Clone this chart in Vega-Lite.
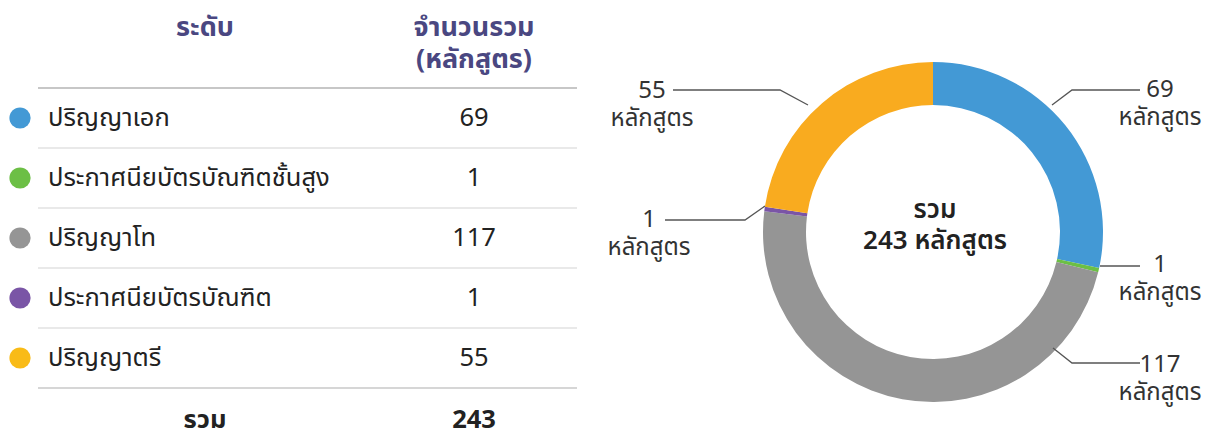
{
  "$schema": "https://vega.github.io/schema/vega-lite/v6.json",
  "padding": 0,
  "autosize": {"type": "pad"},
  "background": "white",
  "spacing": 60,
  "bounds": "flush",
  "config": {
    "view": {"stroke": null},
    "text": {"font": "Noto Sans Thai, Noto Sans, sans-serif"}
  },
  "datasets": {
    "levels": [
      {"level": "ปริญญาเอก", "count": 69, "row": 1},
      {"level": "ประกาศนียบัตรบัณฑิตชั้นสูง", "count": 1, "row": 2},
      {"level": "ปริญญาโท", "count": 117, "row": 3},
      {"level": "ประกาศนียบัตรบัณฑิต", "count": 1, "row": 4},
      {"level": "ปริญญาตรี", "count": 55, "row": 5}
    ],
    "header": [
      {"label": "ระดับ", "col": "level"},
      {"label": "จำนวนรวม\n(หลักสูตร)", "col": "count"}
    ],
    "total": [{"label": "รวม", "count": 243, "row": 6.03}],
    "separators": [
      {"row": 0.5, "kind": "header"},
      {"row": 1.5, "kind": "row"},
      {"row": 2.5, "kind": "row"},
      {"row": 3.5, "kind": "row"},
      {"row": 4.5, "kind": "row"},
      {"row": 5.5, "kind": "total"}
    ],
    "leaders": [
      {"id": "a", "seq": 0, "lx": 119, "ly": -127},
      {"id": "a", "seq": 1, "lx": 139, "ly": -142},
      {"id": "a", "seq": 2, "lx": 207, "ly": -142},
      {"id": "b", "seq": 0, "lx": 167, "ly": 34},
      {"id": "b", "seq": 1, "lx": 207, "ly": 34},
      {"id": "c", "seq": 0, "lx": 120, "ly": 116},
      {"id": "c", "seq": 1, "lx": 139, "ly": 131},
      {"id": "c", "seq": 2, "lx": 207, "ly": 131},
      {"id": "d", "seq": 0, "lx": -168, "ly": -26},
      {"id": "d", "seq": 1, "lx": -188, "ly": -12},
      {"id": "d", "seq": 2, "lx": -268, "ly": -12},
      {"id": "e", "seq": 0, "lx": -125, "ly": -127},
      {"id": "e", "seq": 1, "lx": -153, "ly": -142},
      {"id": "e", "seq": 2, "lx": -260, "ly": -142}
    ],
    "labels": [
      {"num": "69", "unit": "หลักสูตร", "lx": 227, "ly": -142},
      {"num": "1", "unit": "หลักสูตร", "lx": 227, "ly": 33},
      {"num": "117", "unit": "หลักสูตร", "lx": 227, "ly": 133},
      {"num": "1", "unit": "หลักสูตร", "lx": -284, "ly": -12},
      {"num": "55", "unit": "หลักสูตร", "lx": -281, "ly": -141}
    ],
    "center": [{"text": "รวม\n243 หลักสูตร"}]
  },
  "resolve": {"scale": {"x": "independent", "y": "independent", "color": "independent"}},
  "hconcat": [
    {
      "width": 600,
      "height": 445,
      "resolve": {"scale": {"color": "independent"}},
      "layer": [
        {
          "data": {"name": "separators"},
          "mark": {"type": "rule", "strokeWidth": 1.6},
          "encoding": {
            "y": {"field": "row", "type": "quantitative", "scale": {"domain": [-0.9667, 6.45], "reverse": true, "zero": false, "nice": false}, "axis": null},
            "x": {"datum": 38, "type": "quantitative", "scale": {"domain": [0, 600], "zero": false, "nice": false}, "axis": null},
            "x2": {"datum": 577},
            "color": {"field": "kind", "type": "nominal", "scale": {"domain": ["header", "row", "total"], "range": ["#b4b4b4", "#e2e2e2", "#c8c8c8"]}, "legend": null}
          }
        },
        {
          "data": {"name": "levels"},
          "mark": {"type": "point", "filled": true, "opacity": 1, "size": 450},
          "encoding": {
            "x": {"datum": 20, "type": "quantitative"},
            "y": {"field": "row", "type": "quantitative"},
            "color": {"field": "level", "type": "nominal", "scale": {"domain": ["ปริญญาเอก", "ประกาศนียบัตรบัณฑิตชั้นสูง", "ปริญญาโท", "ประกาศนียบัตรบัณฑิต", "ปริญญาตรี"], "range": ["#4399d5", "#6cbf45", "#959595", "#7a55a6", "#f9bb17"]}, "legend": null}
          }
        },
        {
          "data": {"name": "levels"},
          "mark": {"type": "text", "align": "left", "baseline": "middle", "fontSize": 25.5, "color": "#222222"},
          "encoding": {
            "x": {"datum": 48, "type": "quantitative"},
            "y": {"field": "row", "type": "quantitative"},
            "text": {"field": "level"}
          }
        },
        {
          "data": {"name": "levels"},
          "mark": {"type": "text", "align": "center", "baseline": "middle", "fontSize": 25.5, "color": "#222222"},
          "encoding": {
            "x": {"datum": 474, "type": "quantitative"},
            "y": {"field": "row", "type": "quantitative"},
            "text": {"field": "count"}
          }
        },
        {
          "data": {"name": "header"},
          "transform": [{"filter": "datum.col === 'level'"}],
          "mark": {"type": "text", "align": "center", "baseline": "middle", "fontSize": 27, "fontWeight": "bold", "color": "#4a4781", "lineBreak": "\n", "lineHeight": 32},
          "encoding": {
            "x": {"datum": 205, "type": "quantitative"},
            "y": {"datum": -0.5, "type": "quantitative"},
            "text": {"field": "label"}
          }
        },
        {
          "data": {"name": "header"},
          "transform": [{"filter": "datum.col === 'count'"}],
          "mark": {"type": "text", "align": "center", "baseline": "middle", "fontSize": 27, "fontWeight": "bold", "color": "#4a4781", "lineBreak": "\n", "lineHeight": 32},
          "encoding": {
            "x": {"datum": 474, "type": "quantitative"},
            "y": {"datum": -0.5, "type": "quantitative"},
            "text": {"field": "label"}
          }
        },
        {
          "data": {"name": "total"},
          "mark": {"type": "text", "align": "center", "baseline": "middle", "fontSize": 25.5, "fontWeight": "bold", "color": "#222222"},
          "encoding": {
            "x": {"datum": 205, "type": "quantitative"},
            "y": {"field": "row", "type": "quantitative"},
            "text": {"field": "label"}
          }
        },
        {
          "data": {"name": "total"},
          "mark": {"type": "text", "align": "center", "baseline": "middle", "fontSize": 25.5, "fontWeight": "bold", "color": "#222222"},
          "encoding": {
            "x": {"datum": 474, "type": "quantitative"},
            "y": {"field": "row", "type": "quantitative"},
            "text": {"field": "count"}
          }
        }
      ]
    },
    {
      "width": 546,
      "height": 464,
      "resolve": {"scale": {"color": "independent"}},
      "layer": [
        {
          "data": {"name": "levels"},
          "mark": {"type": "arc", "outerRadius": 170, "innerRadius": 127},
          "encoding": {
            "theta": {"field": "count", "type": "quantitative", "stack": true},
            "order": {"field": "row", "type": "quantitative", "sort": "ascending"},
            "color": {"field": "level", "type": "nominal", "scale": {"domain": ["ปริญญาเอก", "ประกาศนียบัตรบัณฑิตชั้นสูง", "ปริญญาโท", "ประกาศนียบัตรบัณฑิต", "ปริญญาตรี"], "range": ["#4399d5", "#6cbf45", "#959595", "#7a55a6", "#f9ab1f"]}, "legend": null}
          }
        },
        {
          "data": {"name": "leaders"},
          "mark": {"type": "line", "color": "#555555", "strokeWidth": 1.3},
          "encoding": {
            "x": {"field": "lx", "type": "quantitative", "scale": {"domain": [-273, 273], "zero": false, "nice": false}, "axis": null},
            "y": {"field": "ly", "type": "quantitative", "scale": {"domain": [-232, 232], "reverse": true, "zero": false, "nice": false}, "axis": null},
            "detail": {"field": "id"},
            "order": {"field": "seq"}
          }
        },
        {
          "data": {"name": "labels"},
          "mark": {"type": "text", "align": "center", "baseline": "middle", "fontSize": 24, "color": "#333333"},
          "encoding": {
            "x": {"field": "lx", "type": "quantitative"},
            "y": {"field": "ly", "type": "quantitative"},
            "text": {"field": "num"}
          }
        },
        {
          "data": {"name": "labels"},
          "mark": {"type": "text", "align": "center", "baseline": "middle", "fontSize": 24, "color": "#333333", "dy": 28},
          "encoding": {
            "x": {"field": "lx", "type": "quantitative"},
            "y": {"field": "ly", "type": "quantitative"},
            "text": {"field": "unit"}
          }
        },
        {
          "data": {"name": "center"},
          "mark": {"type": "text", "align": "center", "baseline": "middle", "fontSize": 26, "fontWeight": 600, "color": "#222222", "lineBreak": "\n", "lineHeight": 31},
          "encoding": {
            "x": {"datum": 2, "type": "quantitative"},
            "y": {"datum": -22, "type": "quantitative"},
            "text": {"field": "text"}
          }
        }
      ]
    }
  ]
}
